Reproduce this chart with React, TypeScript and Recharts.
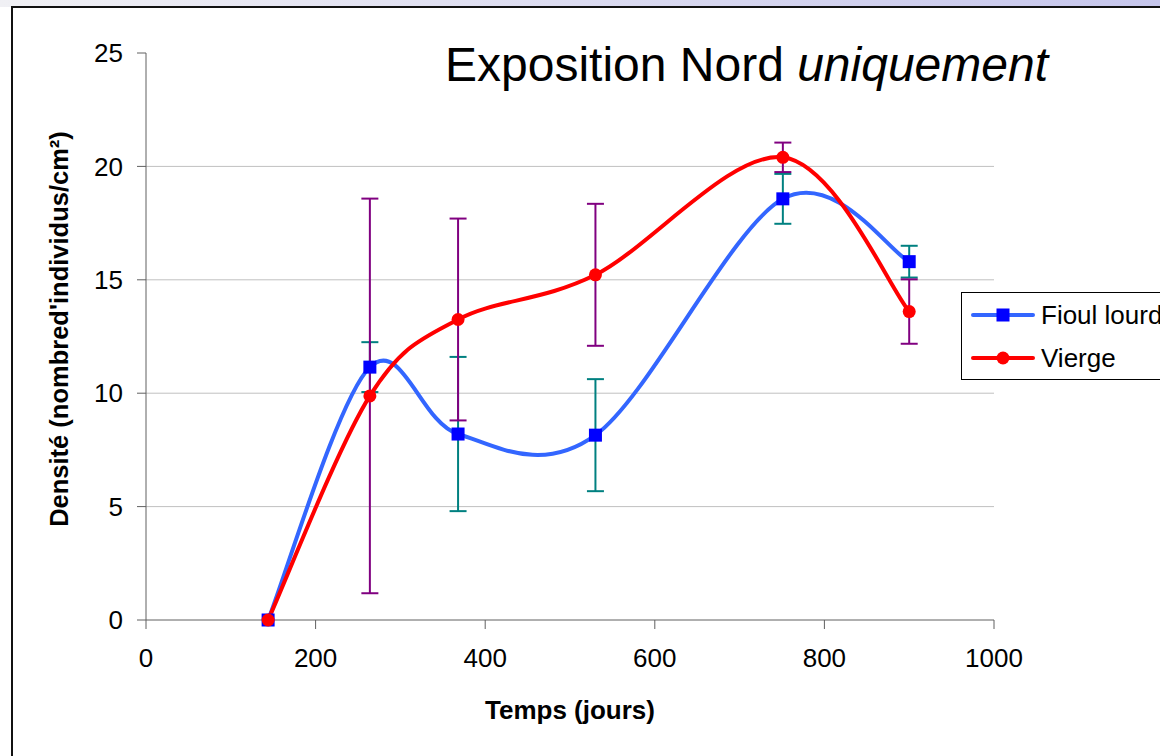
import React from 'react';
import { LineChart, Line, XAxis, YAxis, CartesianGrid, ErrorBar } from 'recharts';

const days = [144, 264, 368, 530, 751, 900];
const fioulLourd = [0, 11.15, 8.2, 8.15, 18.57, 15.8];
const fioulErr = [0, 1.1, 3.4, 2.47, 1.1, 0.7];
const vierge = [0, 9.88, 13.25, 15.22, 20.4, 13.6];
const viergeErr = [0, 8.7, 4.45, 3.13, 0.65, 1.42];
const xTicks = [0, 200, 400, 600, 800, 1000];
const yTicks = [0, 5, 10, 15, 20, 25];

const data = days.map((d, i) => ({
  day: d,
  fioul: fioulLourd[i],
  fioulErr: fioulErr[i],
  vierge: vierge[i],
  viergeErr: viergeErr[i],
}));

const FONT = '"Liberation Sans", Arial, sans-serif';

// smoothing like excel: bezier through each point, handles at 1/6 of neighbour span
const excelSmooth = (context: any) => {
  let pts: number[][] = [];
  return {
    areaStart() {},
    areaEnd() {},
    lineStart() {
      pts = [];
    },
    point(x: number, y: number) {
      pts.push([+x, +y]);
    },
    lineEnd() {
      const n = pts.length;
      if (!n) return;
      context.moveTo(pts[0][0], pts[0][1]);
      for (let i = 0; i < n - 1; i++) {
        const p0 = pts[Math.max(i - 1, 0)];
        const p1 = pts[i];
        const p2 = pts[i + 1];
        const p3 = pts[Math.min(i + 2, n - 1)];
        context.bezierCurveTo(
          p1[0] + (p2[0] - p0[0]) / 6,
          p1[1] + (p2[1] - p0[1]) / 6,
          p2[0] - (p3[0] - p1[0]) / 6,
          p2[1] - (p3[1] - p1[1]) / 6,
          p2[0],
          p2[1]
        );
      }
    },
  };
};

const SquareDot = (props: any) => {
  const { cx, cy, index } = props;
  if (cx == null || cy == null) return <g key={index} />;
  return <rect key={index} x={cx - 6.5} y={cy - 6.5} width={13} height={13} fill="#0000ff" />;
};

const App = () => {
  return (
    <div
      style={{
        position: 'absolute',
        left: 0,
        top: 0,
        width: 1160,
        height: 756,
        overflow: 'hidden',
        background: '#fff',
        fontFamily: FONT,
      }}
    >
      <div
        style={{
          position: 'absolute',
          left: 0,
          top: 0,
          width: 1160,
          height: 7,
          background: 'linear-gradient(to right, #f0f0f4, #c6c6ec)',
        }}
      />
      <div
        style={{
          position: 'absolute',
          left: 11,
          top: 6,
          width: 1200,
          height: 800,
          border: '2px solid #111',
          boxSizing: 'border-box',
        }}
      />
      <div style={{ position: 'absolute', left: 0, top: 0 }}>
        <LineChart width={1160} height={756} data={data} margin={{ top: 53, right: 166, bottom: 0, left: 0 }}>
          <CartesianGrid vertical={false} stroke="#c0c0c0" horizontalValues={[5, 10, 15, 20]} />
          <XAxis
            type="number"
            dataKey="day"
            domain={[0, 1000]}
            ticks={xTicks}
            height={136}
            tickSize={9}
            tickMargin={20}
            axisLine={{ stroke: '#606060' }}
            tickLine={{ stroke: '#606060' }}
            tick={{ fill: '#000', fontSize: 26, fontFamily: FONT }}
          />
          <YAxis
            type="number"
            domain={[0, 25]}
            ticks={yTicks}
            width={146}
            tickSize={9}
            tickMargin={14}
            axisLine={{ stroke: '#606060' }}
            tickLine={{ stroke: '#606060' }}
            tick={{ fill: '#000', fontSize: 26, fontFamily: FONT }}
          />
          <Line
            dataKey="fioul"
            type={excelSmooth as any}
            stroke="#3366ff"
            strokeWidth={4}
            dot={SquareDot}
            activeDot={false}
            isAnimationActive={false}
          >
            <ErrorBar dataKey="fioulErr" direction="y" width={8.5} stroke="#008080" strokeWidth={2} />
          </Line>
          <Line
            dataKey="vierge"
            type={excelSmooth as any}
            stroke="#ff0000"
            strokeWidth={4}
            dot={{ r: 6.5, fill: '#ff0000', stroke: 'none' }}
            activeDot={false}
            isAnimationActive={false}
          >
            <ErrorBar dataKey="viergeErr" direction="y" width={8.5} stroke="#800080" strokeWidth={2} />
          </Line>
        </LineChart>
      </div>
      <div
        style={{
          position: 'absolute',
          left: 445,
          top: 41,
          fontSize: 48,
          lineHeight: 1,
          whiteSpace: 'nowrap',
          color: '#000',
        }}
      >
        Exposition Nord <i>uniquement</i>
      </div>
      <div
        style={{
          position: 'absolute',
          left: 146,
          width: 848,
          top: 697,
          textAlign: 'center',
          fontSize: 26,
          fontWeight: 'bold',
          lineHeight: 1,
        }}
      >
        Temps (jours)
      </div>
      <div
        style={{
          position: 'absolute',
          left: 60,
          top: 329,
          transform: 'translate(-50%, -50%) rotate(-90deg)',
          fontSize: 25.5,
          fontWeight: 'bold',
          lineHeight: 1,
          whiteSpace: 'nowrap',
        }}
      >
        Densité (nombred'individus/cm²)
      </div>
      <div
        style={{
          position: 'absolute',
          left: 961,
          top: 292,
          width: 260,
          height: 88,
          border: '1px solid #000',
          boxSizing: 'border-box',
          background: '#fff',
          fontSize: 26,
        }}
      >
        <div style={{ position: 'absolute', left: 9, top: 7, display: 'flex', alignItems: 'center', height: 30 }}>
          <svg width={64} height={16}>
            <line x1={2} y1={8} x2={62} y2={8} stroke="#3366ff" strokeWidth={4} strokeLinecap="round" />
            <rect x={25.5} y={1.5} width={13} height={13} fill="#0000ff" />
          </svg>
          <span style={{ marginLeft: 6, whiteSpace: 'nowrap' }}>Fioul lourd</span>
        </div>
        <div style={{ position: 'absolute', left: 9, top: 50, display: 'flex', alignItems: 'center', height: 30 }}>
          <svg width={64} height={16}>
            <line x1={2} y1={8} x2={62} y2={8} stroke="#ff0000" strokeWidth={4} strokeLinecap="round" />
            <circle cx={32} cy={8} r={6.5} fill="#ff0000" />
          </svg>
          <span style={{ marginLeft: 6, whiteSpace: 'nowrap' }}>Vierge</span>
        </div>
      </div>
    </div>
  );
};

export default App;
